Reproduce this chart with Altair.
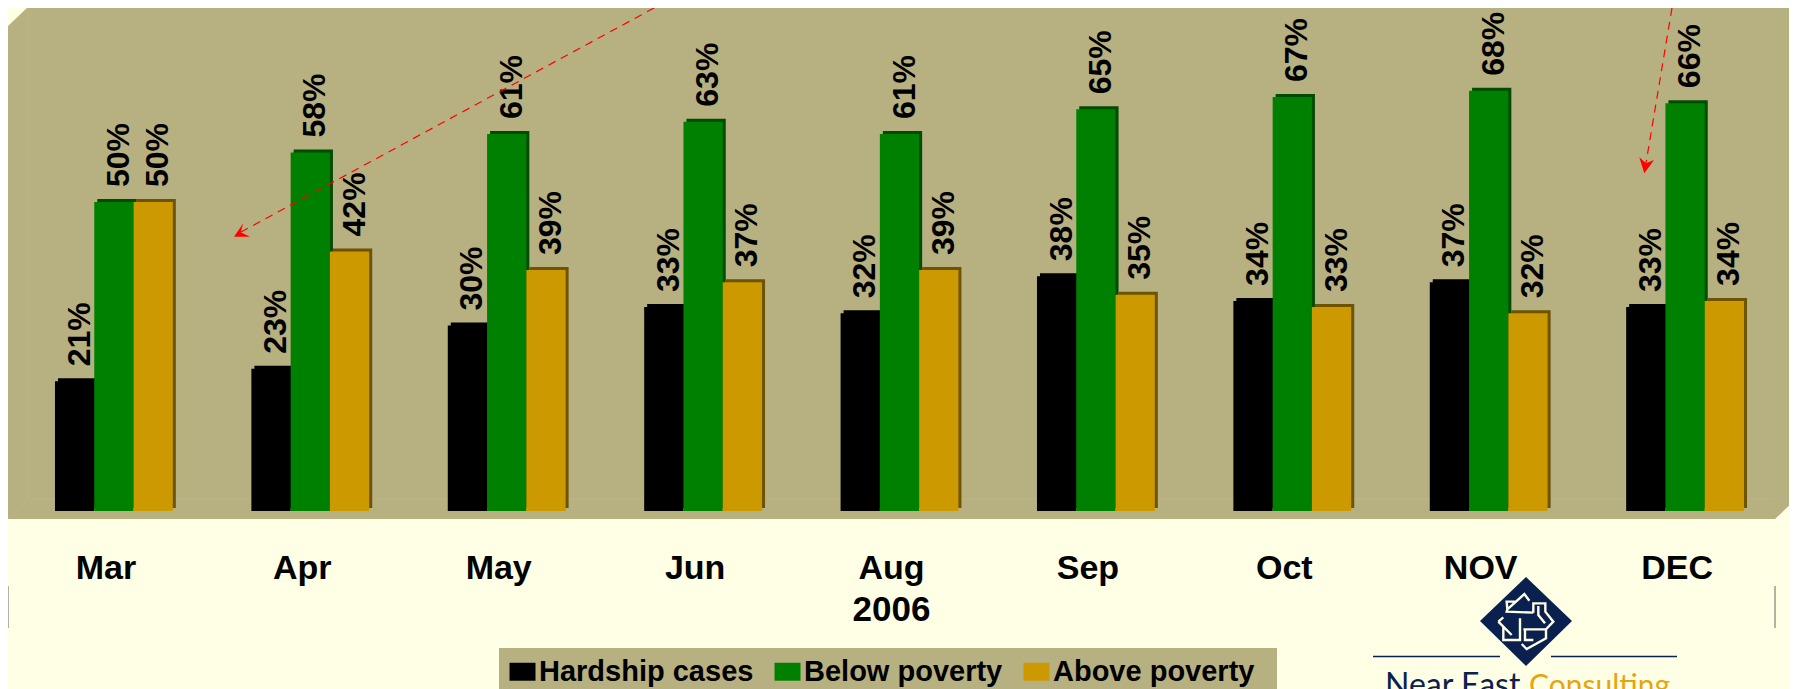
import altair as alt
import pandas as pd

months = ["Mar", "Apr", "May", "Jun", "Aug", "Sep", "Oct", "NOV", "DEC"]
series = ["Hardship cases", "Below poverty", "Above poverty"]
hardship = [21, 23, 30, 33, 32, 38, 34, 37, 33]
below = [50, 58, 61, 63, 61, 65, 67, 68, 66]
above = [50, 42, 39, 37, 39, 35, 33, 32, 34]
front_colors = ["#000000", "#008000", "#CC9900"]
side_colors = ["#000000", "#004C00", "#6E5300"]
axis_title = "2006"

PANEL = "#B7B081"
PAGE = "#FFFFE6"
NAVY = "#0A2150"
FONT = "Liberation Sans"

rows = []
for s, vals, side in zip(series, [hardship, below, above], side_colors):
    for m, v in zip(months, vals):
        rows.append({"month": m, "series": s, "value": v, "label": f"{v}%", "side": side})
df = pd.DataFrame(rows)

blank = alt.Data(values=[{}])


def shape(path, fill=None, stroke=None, width=1.0, dash=None):
    """A drawing given as an SVG path in page pixels (size 4 makes the path scale 1)."""
    kw = dict(shape=path, size=4, opacity=1, filled=fill is not None)
    if fill is not None:
        kw["fill"] = fill
    if stroke is not None:
        kw["stroke"] = stroke
        kw["strokeWidth"] = width
    else:
        kw["strokeWidth"] = 0
    if dash:
        kw["strokeDash"] = dash
    return alt.Chart(blank).mark_point(**kw).encode(x=alt.value(0), y=alt.value(0))


def P(*pts, close=False):
    s = "M" + "L".join(f"{x-8},{y-8}" for x, y in pts)
    return s + ("Z" if close else "")


panel = shape(P((8, 26), (28, 7), (1797, 7), (1797, 498), (1775, 519), (8, 519), close=True), fill=PANEL)
wall = shape(P((28, 7), (28, 499), (8, 519)) + P((28, 499), (1775, 499)), stroke="#BDB78D", width=0.8)
ticks_l = shape(P((8, 586), (8, 628)) + P((1775, 586), (1775, 628)), stroke="#666666", width=1)
legend_box = shape(P((499, 648), (1277, 648), (1277, 700), (499, 700), close=True), fill=PANEL)


def x_scale(shift=0.0):
    return alt.Scale(domain=months, range=[7.7 + shift, 1775.3 + shift],
                     paddingInner=0.4, paddingOuter=0.2, round=False)


x_enc = alt.X(
    "month:N", sort=months, scale=x_scale(),
    axis=alt.Axis(
        title=axis_title, titleFont=FONT, titleFontSize=35, titleFontWeight="bold", titleColor="#000000",
        titleX=883, titleY=109.7, titleBaseline="alphabetic", titleAlign="center", titleAnchor="start",
        labelFont=FONT, labelFontSize=34, labelFontWeight="bold", labelColor="#000000",
        labelAngle=0, labelPadding=40, labelOffset=-8, domain=False, ticks=False, grid=False,
    ),
)
x_plain = alt.X("month:N", sort=months, scale=x_scale(), axis=None)
x_back = alt.X("month:N", sort=months, scale=x_scale(3.0), axis=None)
x_off = alt.XOffset("series:N", sort=series, scale=alt.Scale(domain=series))
y_enc = alt.Y("value:Q", axis=None, scale=alt.Scale(domain=[0, 81.4], nice=False))

base = alt.Chart(df)
back = base.mark_bar(yOffset=-3, y2Offset=-3).encode(
    x=x_back, xOffset=x_off, y=y_enc, y2=alt.datum(0), color=alt.Color("side:N", scale=None)
)
front = base.mark_bar().encode(
    x=x_enc, xOffset=x_off, y=y_enc,
    fill=alt.Fill(
        "series:N", sort=series,
        scale=alt.Scale(domain=series, range=front_colors),
        legend=alt.Legend(
            orient="none", legendX=491, legendY=640, direction="horizontal", title=None,
            padding=9, columnPadding=19, labelOffset=2, labelLimit=400,
            symbolType="M-1,-0.69H1V0.69H-1Z", symbolSize=676, symbolStrokeWidth=0,
            labelFont=FONT, labelFontSize=29, labelFontWeight="bold", labelColor="#000000",
        ),
    ),
)
labels = base.mark_text(
    angle=270, align="left", baseline="middle", dx=15, dy=5,
    font=FONT, fontSize=32, fontWeight="bold", color="#000000",
).encode(x=x_plain, xOffset=x_off, y=y_enc, text="label:N")

arrow1 = shape(P((654, 8), (241, 232)), stroke="#FF0000", width=1.2, dash=[8, 6])
head1 = shape(P((234, 236.7), (243.3, 223.3), (240.7, 232.3), (250, 236.7), close=True), fill="#FF0000")
arrow2 = shape(P((1672, 8), (1646, 163)), stroke="#FF0000", width=1.2, dash=[8, 6])
head2 = shape(P((1644.3, 173.3), (1639.3, 157.3), (1646, 163.3), (1654, 160), close=True), fill="#FF0000")

# logo
diamond = shape(P((1526, 577), (1572, 621), (1526, 666), (1480, 621), close=True), fill=NAVY)


def Z(*pts):
    return P(*[(1470 + x / 3, 570 + y / 3) for x, y in pts])


knot = shape(
    Z((178, 92), (163, 72), (112, 118), (110, 125), (190, 128))
    + Z((112, 118), (110, 95), (140, 95))
    + Z((190, 128), (190, 100), (226, 100), (226, 125), (250, 155), (226, 180))
    + Z((205, 108), (205, 135), (225, 160))
    + Z((160, 178), (228, 178), (228, 205), (170, 237), (155, 222))
    + Z((85, 155), (100, 142))
    + Z((85, 155), (125, 195))
    + Z((100, 170), (100, 210), (150, 210), (150, 145))
    + Z((165, 178), (165, 210), (190, 210)),
    stroke=PAGE, width=2.4,
)
rule_l = shape(P((1373, 656.5), (1500, 656.5)), stroke=NAVY, width=1.6)
rule_r = shape(P((1551, 656.5), (1677, 656.5)), stroke=NAVY, width=1.6)
near = alt.Chart(blank).mark_text(
    font="Lato", fontSize=32, align="left", baseline="alphabetic", color=NAVY
).encode(x=alt.value(1385 - 8), y=alt.value(696 - 8), text=alt.value("Near East"))
consulting = alt.Chart(blank).mark_text(
    font="Lato", fontSize=30, align="left", baseline="alphabetic", color="#E6A50F"
).encode(x=alt.value(1529 - 8), y=alt.value(696 - 8), text=alt.value("Consulting"))

chart = alt.layer(
    panel, wall, ticks_l, legend_box, back, front, labels, arrow1, head1, arrow2, head2,
    diamond, knot, rule_l, rule_r, near, consulting,
).resolve_scale(color="independent", x="independent").properties(
    width=1781, height=503, background=PAGE,
    padding={"left": 0, "top": 0, "right": 0, "bottom": 178},
    autosize=alt.AutoSizeParams(type="none"),
).configure_view(stroke=None)

chart.save("out.html", embed_options={"renderer": "svg", "actions": False})
